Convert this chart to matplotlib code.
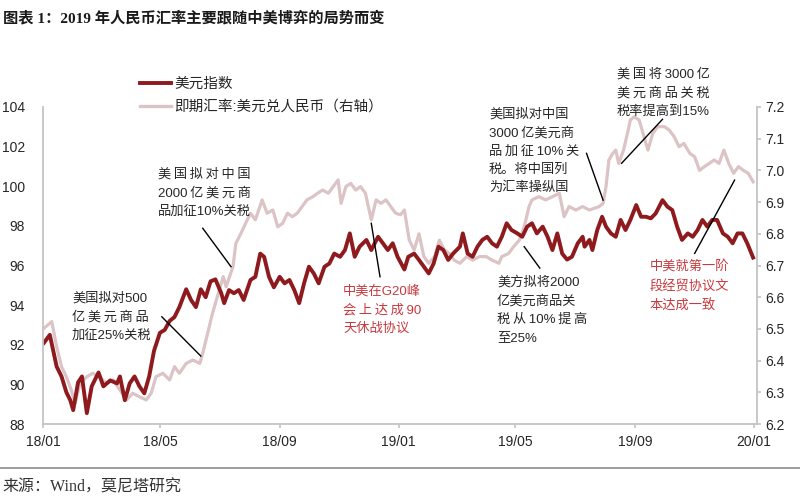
import matplotlib
matplotlib.use("Agg")
import matplotlib.pyplot as plt
from matplotlib.lines import Line2D
import numpy as np
import pandas as pd

plt.rcParams['font.family'] = ['Liberation Sans', 'Noto Sans CJK SC', 'DejaVu Sans']

# ---------------- data ----------------
dxy_dates = [
    "2018-01-02", "2018-01-08", "2018-01-15", "2018-01-20", "2018-01-25", "2018-01-29", "2018-02-01",
    "2018-02-06", "2018-02-10", "2018-02-15", "2018-02-20", "2018-02-27", "2018-03-04", "2018-03-11",
    "2018-03-18", "2018-03-21", "2018-03-26", "2018-03-31", "2018-04-05", "2018-04-10", "2018-04-15",
    "2018-04-20", "2018-04-25", "2018-05-01", "2018-05-06", "2018-05-11", "2018-05-16", "2018-05-21",
    "2018-05-28", "2018-06-02", "2018-06-07", "2018-06-12", "2018-06-17", "2018-06-22", "2018-06-27",
    "2018-07-03", "2018-07-06", "2018-07-11", "2018-07-16", "2018-07-21", "2018-07-26", "2018-08-02",
    "2018-08-07", "2018-08-12", "2018-08-16", "2018-08-21", "2018-08-26", "2018-09-01", "2018-09-06",
    "2018-09-11", "2018-09-16", "2018-09-21", "2018-09-26", "2018-10-01", "2018-10-06", "2018-10-11",
    "2018-10-17", "2018-10-22", "2018-10-27", "2018-11-02", "2018-11-07", "2018-11-12", "2018-11-17",
    "2018-11-22", "2018-11-29", "2018-12-04", "2018-12-11", "2018-12-16", "2018-12-21", "2018-12-26",
    "2018-12-31",
    "2019-01-07", "2019-01-11", "2019-01-17", "2019-01-22", "2019-01-27", "2019-02-01", "2019-02-06",
    "2019-02-11", "2019-02-16", "2019-02-21", "2019-02-26", "2019-03-05", "2019-03-08", "2019-03-13",
    "2019-03-18", "2019-03-23", "2019-03-28", "2019-04-02", "2019-04-07", "2019-04-12", "2019-04-17",
    "2019-04-22", "2019-04-27", "2019-05-03", "2019-05-08", "2019-05-13", "2019-05-18", "2019-05-23",
    "2019-05-29", "2019-06-03", "2019-06-08", "2019-06-13", "2019-06-18", "2019-06-23", "2019-06-28",
    "2019-07-04", "2019-07-09", "2019-07-11", "2019-07-16", "2019-07-19", "2019-07-24", "2019-07-29",
    "2019-08-02", "2019-08-07", "2019-08-12", "2019-08-17", "2019-08-22", "2019-08-27", "2019-09-02",
    "2019-09-07", "2019-09-12", "2019-09-17", "2019-09-22", "2019-09-29", "2019-10-04", "2019-10-09",
    "2019-10-14", "2019-10-19", "2019-10-25", "2019-10-30", "2019-11-04", "2019-11-09", "2019-11-14",
    "2019-11-19", "2019-11-24", "2019-11-30", "2019-12-05", "2019-12-10", "2019-12-15", "2019-12-20",
    "2019-12-25", "2019-12-31",
]
dxy_values = [
    92.10, 92.50, 90.90, 90.40, 89.60, 89.20, 88.70,
    90.10, 90.40, 88.55, 89.90, 90.60, 89.90, 90.20,
    90.05, 90.40, 89.20, 90.05, 90.40, 89.90, 89.55,
    90.40, 91.70, 92.60, 92.75, 93.20, 93.40, 93.90,
    94.80, 94.26, 93.90, 94.80, 94.40, 95.20, 95.30,
    94.60, 94.10, 94.76, 94.60, 94.76, 94.26, 95.27,
    95.43, 96.60, 96.44, 95.43, 94.90, 95.43, 95.10,
    95.27, 94.76, 94.10, 95.10, 95.94, 95.60, 95.10,
    95.94, 96.10, 96.60, 96.44, 96.78, 97.62, 96.44,
    96.95, 97.29, 96.78, 97.45, 97.12, 96.78, 97.12,
    96.44,
    95.80, 96.44, 96.60, 96.28, 95.94, 95.60, 96.10,
    96.95, 96.78, 96.28, 96.60, 96.95, 97.62, 96.60,
    96.44, 96.95, 97.29, 97.45, 97.12, 96.95, 97.45,
    98.13, 97.79, 97.62, 97.45, 97.96, 98.13, 97.62,
    97.96, 97.45, 96.78, 97.62, 96.60, 96.30, 96.44,
    97.12, 97.45, 96.95, 97.29, 96.78, 97.79, 98.46,
    97.96, 97.62, 97.45, 98.30, 97.79, 98.30, 99.05,
    98.46, 98.46, 98.38, 98.63, 99.30, 98.97, 98.80,
    97.96, 97.29, 97.62, 97.45, 97.79, 98.30, 97.96,
    98.30, 98.30, 97.62, 97.45, 97.12, 97.62, 97.62,
    97.12, 96.40,
]

cny_dates = [
    "2018-01-02", "2018-01-10", "2018-01-15", "2018-01-20", "2018-01-25", "2018-01-30", "2018-02-03",
    "2018-02-08", "2018-02-15", "2018-02-21", "2018-02-28", "2018-03-07", "2018-03-14", "2018-03-21",
    "2018-03-28", "2018-04-03", "2018-04-10", "2018-04-17", "2018-04-22", "2018-04-27", "2018-05-04",
    "2018-05-11", "2018-05-16", "2018-05-21", "2018-05-28", "2018-06-04", "2018-06-11", "2018-06-14",
    "2018-06-19", "2018-06-24", "2018-06-30", "2018-07-05", "2018-07-08", "2018-07-15", "2018-07-18",
    "2018-07-23", "2018-07-28", "2018-08-02", "2018-08-07", "2018-08-14", "2018-08-19", "2018-08-25",
    "2018-08-30", "2018-09-04", "2018-09-09", "2018-09-14", "2018-09-19", "2018-09-24", "2018-09-29",
    "2018-10-05", "2018-10-10", "2018-10-15", "2018-10-21", "2018-10-26", "2018-10-31", "2018-11-03",
    "2018-11-08", "2018-11-13", "2018-11-18", "2018-11-23", "2018-11-28", "2018-12-04", "2018-12-09",
    "2018-12-14", "2018-12-19", "2018-12-24", "2018-12-29",
    "2019-01-03", "2019-01-07", "2019-01-12", "2019-01-17", "2019-01-22", "2019-01-27", "2019-02-01",
    "2019-02-07", "2019-02-12", "2019-02-17", "2019-02-22", "2019-02-27", "2019-03-05", "2019-03-12",
    "2019-03-18", "2019-03-25", "2019-04-01", "2019-04-07", "2019-04-14", "2019-04-17", "2019-04-24",
    "2019-04-29", "2019-05-05", "2019-05-10", "2019-05-15", "2019-05-18", "2019-05-25", "2019-06-01",
    "2019-06-08", "2019-06-15", "2019-06-20", "2019-06-25", "2019-07-02", "2019-07-09", "2019-07-16",
    "2019-07-26", "2019-07-30", "2019-08-02", "2019-08-05", "2019-08-09", "2019-08-12", "2019-08-15",
    "2019-08-20", "2019-08-24", "2019-08-27", "2019-08-31", "2019-09-05", "2019-09-09", "2019-09-14",
    "2019-09-19", "2019-09-24", "2019-10-01", "2019-10-06", "2019-10-11", "2019-10-16", "2019-10-21",
    "2019-10-27", "2019-11-01", "2019-11-06", "2019-11-11", "2019-11-16", "2019-11-21", "2019-11-26",
    "2019-12-01", "2019-12-06", "2019-12-11", "2019-12-16", "2019-12-21", "2019-12-26", "2019-12-31",
]
cny_values = [
    6.502, 6.523, 6.444, 6.381, 6.349, 6.307, 6.265,
    6.328, 6.349, 6.360, 6.349, 6.328, 6.339, 6.307,
    6.276, 6.297, 6.286, 6.276, 6.297, 6.349, 6.360,
    6.339, 6.381, 6.360, 6.391, 6.402, 6.391, 6.423,
    6.486, 6.549, 6.612, 6.665, 6.633, 6.696, 6.770,
    6.800, 6.833, 6.865, 6.844, 6.907, 6.865, 6.875,
    6.822, 6.833, 6.865, 6.854, 6.865, 6.886, 6.907,
    6.917, 6.928, 6.938, 6.928, 6.949, 6.970, 6.896,
    6.949, 6.959, 6.938, 6.949, 6.928, 6.844, 6.907,
    6.896, 6.907, 6.886, 6.865,
    6.860, 6.875, 6.780, 6.749, 6.800, 6.728, 6.707,
    6.728, 6.780, 6.749, 6.738, 6.717, 6.707, 6.728,
    6.717, 6.728, 6.728, 6.717, 6.707, 6.728, 6.738,
    6.759, 6.780, 6.822, 6.886, 6.907, 6.917, 6.907,
    6.917, 6.928, 6.854, 6.886, 6.875, 6.886, 6.875,
    6.886, 6.896, 6.949, 7.033, 7.054, 7.064, 7.022,
    7.064, 7.117, 7.159, 7.169, 7.159, 7.117, 7.064,
    7.117, 7.138, 7.138, 7.127, 7.106, 7.075, 7.085,
    7.054, 7.043, 7.000, 7.012, 7.022, 7.033, 7.022,
    7.064, 7.022, 6.991, 7.012, 7.000, 6.991, 6.964,
]

left_ticks = [88, 90, 92, 94, 96, 98, 100, 102, 104]
right_ticks = [6.2, 6.3, 6.4, 6.5, 6.6, 6.7, 6.8, 6.9, 7.0, 7.1, 7.2]
xtick_dates = ["2018-01-01", "2018-05-01", "2018-09-01", "2019-01-01", "2019-05-01", "2019-09-01", "2020-01-01"]
xtick_labels = ["18/01", "18/05", "18/09", "19/01", "19/05", "19/09", "20/01"]

series_names = ["美元指数", "即期汇率:美元兑人民币（右轴）"]

T = "\u2009"  # thin space used for the justified look of the original labels
# annotations: text, leader start (date, left-axis value), leader end (date, left-axis value), colour key
annotations = [
    ("美国拟对500\n" + T.join("亿美元商品") + "\n加征25%关税",
     ("2018-05-03", 93.41), ("2018-06-12", 91.43), "k"),
    (T.join("美国拟对中国") + "\n2000" + T + T.join("亿美元商") + "\n品加征10%关税",
     ("2018-06-14", 97.88), ("2018-07-13", 95.94), "k"),
    ("中美在G20峰\n" + T.join("会上达成") + T + "90\n天休战协议",
     ("2018-12-04", 98.13), ("2018-12-13", 95.43), "r"),
    ("美方拟将2000\n亿美元商品关\n税" + T + "从" + T + "10%" + T + "提" + T + "高\n至25%",
     ("2019-05-10", 96.95), ("2019-05-26", 95.87), "k"),
    ("美国拟对中国\n3000" + T + "亿美元商\n品" + T + "加" + T + "征" + T + "10%" + T + "关\n税。将中国列\n为汇率操纵国",
     ("2019-07-13", 101.66), ("2019-07-30", 99.30), "k"),
    (T.join("美国将") + T + "3000" + T + "亿\n" + T.join("美元商品关税") + "\n税率提高到15%",
     ("2019-08-18", 101.16), ("2019-09-29", 103.38), "k"),
    ("中美就第一阶\n段经贸协议文\n本达成一致",
     ("2019-11-01", 96.61), ("2019-12-12", 100.31), "r"),
]
# text placement in figure pixels (left, top) -- layout only
anno_pos = [(72, 292), (158, 168), (343, 285), (497, 276), (489, 108), (617, 68), (650, 261)]

# ---------------- styling ----------------
DXY_COLOR = "#8E1A1E"
CNY_COLOR = "#DCC3C5"
RED_TEXT = "#C8393F"
TEXT = "#262626"
SPINE = "#C4C4C4"

W, H = 800, 500
def fx(px):
    return px / W
def fy(py):
    return 1 - py / H

fig = plt.figure(figsize=(8, 5), dpi=100)
fig.patch.set_facecolor("white")
ax = fig.add_axes([fx(43), fy(424), (757 - 43) / W, (424 - 107) / H])
ax2 = ax.twinx()
ax.set_zorder(ax2.get_zorder() + 1)
ax.patch.set_visible(False)

d_dxy = pd.to_datetime(dxy_dates)
d_cny = pd.to_datetime(cny_dates)
ax2.plot(d_cny, cny_values, color=CNY_COLOR, lw=2.3, solid_joinstyle="round", label=series_names[1])
ax.plot(d_dxy, dxy_values, color=DXY_COLOR, lw=2.8, solid_joinstyle="round", label=series_names[0])

ax.set_xlim(pd.Timestamp("2018-01-01"), pd.Timestamp("2020-01-04"))
ax.set_ylim(88, 104)
ax2.set_ylim(6.2, 7.2)
ax.set_yticks(left_ticks)
ax.set_yticklabels([str(v) for v in left_ticks])
ax2.set_yticks(right_ticks)
ax2.set_yticklabels(["%.1f" % v for v in right_ticks])
ax.set_xticks(pd.to_datetime(xtick_dates))
ax.set_xticklabels(xtick_labels)

for a in (ax, ax2):
    a.spines["top"].set_visible(False)
    for s in ("left", "right", "bottom"):
        a.spines[s].set_color(SPINE)
        a.spines[s].set_linewidth(1.3)
ax.spines["right"].set_visible(False)
ax2.spines["left"].set_visible(False)
ax2.spines["bottom"].set_visible(False)

ax.tick_params(axis="y", length=0, pad=13, labelsize=10, labelcolor=TEXT)
ax.tick_params(axis="x", length=3, width=1.2, color=SPINE, pad=5, labelsize=10, labelcolor=TEXT)
ax2.tick_params(axis="y", length=3, width=1.2, color=SPINE, pad=3, labelsize=10, labelcolor=TEXT)

# annotations
for (txt, p0, p1, c), (tx, ty) in zip(annotations, anno_pos):
    ax.plot([pd.Timestamp(p0[0]), pd.Timestamp(p1[0])], [p0[1], p1[1]], color="black", lw=1.0, zorder=5)
    fig.text(fx(tx), fy(ty), txt, ha="left", va="top", fontsize=9.5, linespacing=1.65,
             color=(RED_TEXT if c == "r" else TEXT))

# legend
handles = [Line2D([], [], color=DXY_COLOR, lw=2.8), Line2D([], [], color=CNY_COLOR, lw=2.4)]
fig.legend(handles, series_names, loc="upper left", bbox_to_anchor=(fx(140), fy(77)),
           frameon=False, fontsize=10.5, handlelength=2.1, handletextpad=0.25, labelspacing=0.6,
           borderpad=0, borderaxespad=0, labelcolor=TEXT)

# title, source, separator
fig.text(fx(3), fy(18), "图表 1：2019 年人民币汇率主要跟随中美博弈的局势而变", ha="left", va="center",
         fontsize=11, fontweight="bold", color="#1a1a1a",
         family=["Liberation Serif", "Noto Sans CJK SC"])
fig.add_artist(Line2D([0, 1], [fy(468), fy(468)], transform=fig.transFigure, color="#8c8c8c", lw=1.2))
fig.text(fx(2), fy(487), "来源：Wind，莫尼塔研究", ha="left", va="center", fontsize=11.5,
         color="#333333", family=["Liberation Serif", "Noto Sans CJK SC"])

fig.savefig("out.png", dpi=100, facecolor="white")
